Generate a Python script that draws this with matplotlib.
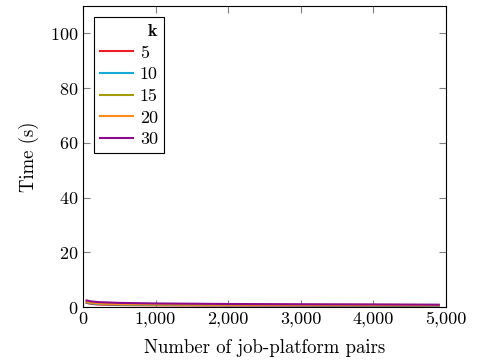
import matplotlib
matplotlib.use("Agg")
import matplotlib.pyplot as plt
from matplotlib.ticker import FuncFormatter

plt.rcParams['font.family'] = 'cmr10'
plt.rcParams['mathtext.fontset'] = 'cm'
plt.rcParams['axes.formatter.use_mathtext'] = True
plt.rcParams['font.size'] = 13

# job-platform pairs
pairs = [50, 100, 200, 500, 1000, 2000, 3000, 4000, 4900]

# time (s) per k
k_labels = ['5', '10', '15', '20', '30']
t_k5 = [1.5, 1.2, 0.9, 0.7, 0.6, 0.5, 0.45, 0.4, 0.35]
t_k10 = [1.7, 1.4, 1.1, 0.9, 0.75, 0.65, 0.6, 0.55, 0.5]
t_k15 = [1.9, 1.6, 1.3, 1.0, 0.9, 0.8, 0.7, 0.65, 0.6]
t_k20 = [2.0, 1.7, 1.4, 1.1, 1.0, 0.85, 0.8, 0.75, 0.7]
t_k30 = [2.4, 2.1, 1.8, 1.5, 1.3, 1.1, 1.0, 0.95, 0.85]
series = [t_k5, t_k10, t_k15, t_k20, t_k30]
colors = ['#ee1c24', '#17a9d6', '#a39c08', '#ff8c1a', '#8b0a8b']

fig = plt.figure(figsize=(4.82, 3.63), dpi=100)
ax = fig.add_axes([83/482, 1-307/363, 363/482, 301/363])

for lab, ys, c in zip(k_labels, series, colors):
    ax.plot(pairs, ys, color=c, lw=1.5, label=lab)

ax.set_xlim(0, 5000)
ax.set_ylim(0, 110)
ax.set_xticks([0, 1000, 2000, 3000, 4000, 5000])
ax.set_yticks([0, 20, 40, 60, 80, 100])
ax.xaxis.set_major_formatter(FuncFormatter(lambda v, p: f'{int(v):,}'))
ax.tick_params(direction='in', which='both', top=True, right=True,
               color='#808080', length=5, labelsize=13)
for s in ax.spines.values():
    s.set_linewidth(0.8)

ax.set_xlabel('Number of job-platform pairs', fontsize=13.5, labelpad=8)
ax.set_ylabel('Time (s)', fontsize=13.5, labelpad=8)

leg = ax.legend(title=r'$\mathbf{k}$', loc='upper left', bbox_to_anchor=(0.0, 1.0),
                borderaxespad=0.6, fancybox=False, edgecolor='black', framealpha=1,
                handlelength=1.8, handletextpad=0.4, borderpad=0.35,
                labelspacing=0.33, fontsize=13)
leg.get_frame().set_linewidth(0.8)
leg.get_title().set_fontsize(13)
leg._legend_box.align = 'right'

fig.savefig('out.png', dpi=100)
